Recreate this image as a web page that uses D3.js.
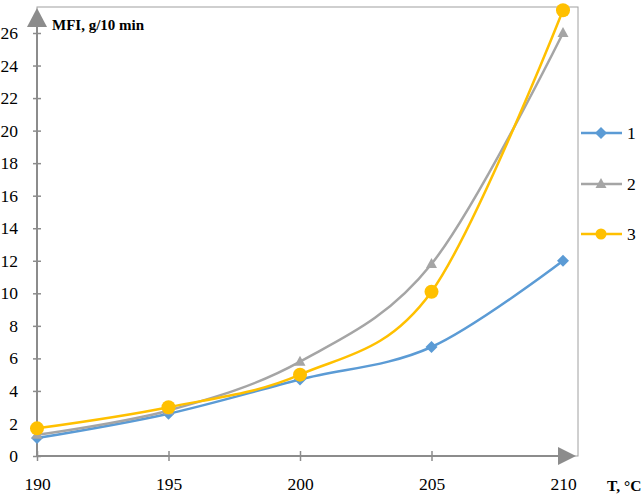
<!DOCTYPE html>
<html><head><meta charset="utf-8">
<script src="https://cdn.jsdelivr.net/npm/d3@7"></script>
<style>body{margin:0;background:#fff}svg{display:block}</style>
</head><body>
<svg id="c" width="644" height="495"></svg>
<script>
const temps = [190, 195, 200, 205, 210];
const series1 = [1.1, 2.6, 4.7, 6.7, 12.0];
const series2 = [1.3, 2.8, 5.8, 11.8, 26.0];
const series3 = [1.7, 3.0, 5.0, 10.1, 27.4];
const seriesNames = ["1", "2", "3"];
const yTicks = [0, 2, 4, 6, 8, 10, 12, 14, 16, 18, 20, 22, 24, 26];
const xTicks = [190, 195, 200, 205, 210];

const colors = ["#5B9BD5", "#A5A5A5", "#FFC000"];
const svg = d3.select("#c");
const x = d3.scaleLinear().domain([190, 210]).range([37, 563]);
const y = d3.scaleLinear().domain([0, 26]).range([456, 33]);
const font = '"Liberation Serif"';
const axisCol = "#8c8c8c";

// plot border
svg.append("rect").attr("x", 37).attr("y", 7).attr("width", 541).attr("height", 449)
  .attr("fill", "none").attr("stroke", "#a0a0a0").attr("stroke-width", 1);

// y axis
const yAxis = d3.axisLeft(y).tickValues(yTicks).tickSize(0).tickPadding(19);
const gy = svg.append("g").attr("transform", "translate(37,0)").call(yAxis);
gy.attr("font-family", null).attr("font-size", null);
gy.select(".domain").remove();
gy.selectAll("text").style("font-family", font).style("font-size", "17.5px").attr("fill", "#000");
gy.selectAll(".tick").append("line").attr("x1", -4).attr("x2", 4).attr("stroke", axisCol).attr("stroke-width", 1.5);
svg.append("line").attr("x1", 37).attr("x2", 37).attr("y1", 456).attr("y2", 20).attr("stroke", axisCol).attr("stroke-width", 2);
svg.append("path").attr("d", "M37,8 L27,27 L47,27 Z").attr("fill", axisCol);

// x axis
const xAxis = d3.axisBottom(x).tickValues(xTicks).tickSize(0).tickPadding(22).tickFormat(d3.format("d"));
const gx = svg.append("g").attr("transform", "translate(0,456)").call(xAxis);
gx.attr("font-family", null).attr("font-size", null);
gx.select(".domain").remove();
gx.selectAll("text").style("font-family", font).style("font-size", "17.5px").attr("fill", "#000");
gx.selectAll(".tick").append("line").attr("y1", -5).attr("y2", 5).attr("stroke", axisCol).attr("stroke-width", 1.5);
svg.append("line").attr("x1", 37).attr("x2", 566).attr("y1", 456).attr("y2", 456).attr("stroke", axisCol).attr("stroke-width", 2);
svg.append("path").attr("d", "M576,456 L558,447 L558,465 Z").attr("fill", axisCol);

// titles
svg.append("text").attr("x", 52).attr("y", 30).style("font-family", font).style("font-size", "15px")
  .attr("font-weight", "bold").text("MFI, g/10 min");
svg.append("text").attr("x", 607).attr("y", 491).style("font-family", font).style("font-size", "15.5px")
  .attr("font-weight", "bold").text("T, °C");

const data = [series1, series2, series3];
const line = d3.line().x((d, i) => x(temps[i])).y(d => y(d)).curve(d3.curveCardinal.tension(0));

function marker(g, k, cx, cy) {
  if (k === 0) {
    g.append("path").attr("d", `M${cx},${cy-6} L${cx+6},${cy} L${cx},${cy+6} L${cx-6},${cy} Z`).attr("fill", colors[0]);
  } else if (k === 1) {
    g.append("path").attr("d", `M${cx},${cy-6} L${cx+5.5},${cy+4} L${cx-5.5},${cy+4} Z`).attr("fill", colors[1]);
  } else {
    g.append("circle").attr("cx", cx).attr("cy", cy).attr("r", 7).attr("fill", colors[2]);
  }
}

data.forEach((s, k) => {
  const g = svg.append("g");
  g.append("path").attr("d", line(s)).attr("fill", "none").attr("stroke", colors[k]).attr("stroke-width", 2.5);
  s.forEach((v, i) => marker(g, k, x(temps[i]), y(v)));
});

// legend
const legY = [133, 184, 234];
seriesNames.forEach((n, k) => {
  const g = svg.append("g");
  g.append("line").attr("x1", 581).attr("x2", 622).attr("y1", legY[k]).attr("y2", legY[k])
    .attr("stroke", colors[k]).attr("stroke-width", 2.5);
  if (k === 2) g.append("circle").attr("cx", 601).attr("cy", legY[k]).attr("r", 5.5).attr("fill", colors[2]);
  else marker(g, k, 601, legY[k]);
  g.append("text").attr("x", 627).attr("y", legY[k] + 6).style("font-family", font).style("font-size", "17.5px").text(n);
});
</script>
</body></html>
